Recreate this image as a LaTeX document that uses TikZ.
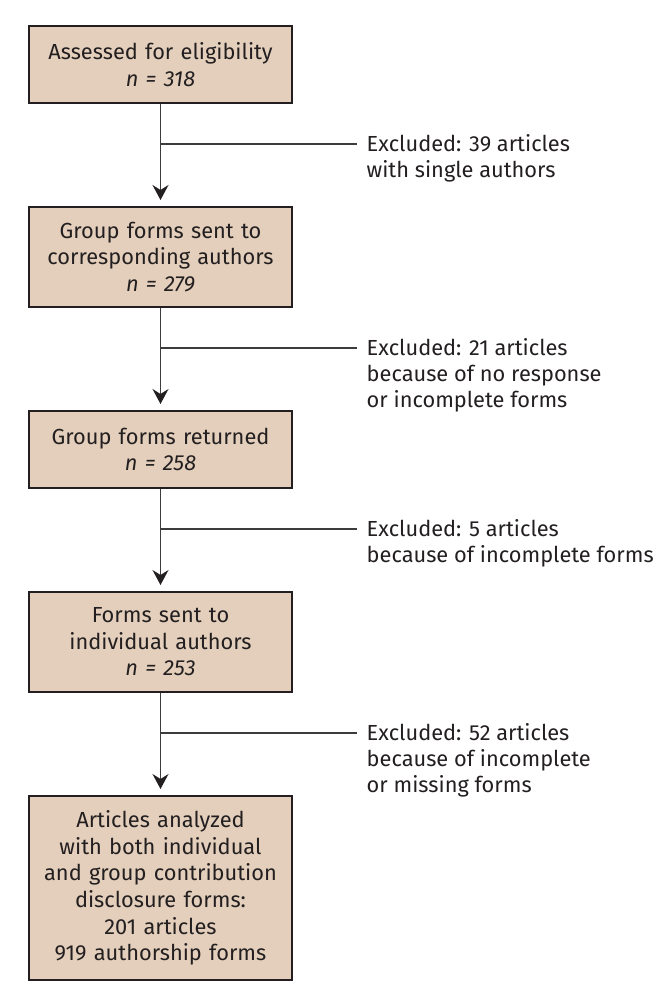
\documentclass[tikz,border=0pt]{standalone}
\usepackage{fontspec}
\setmainfont{Fira Sans}
\usepackage{xcolor}
\usepackage{tikz}
\usetikzlibrary{arrows.meta,positioning,calc}
\definecolor{FlowTan}{HTML}{E3CFBB}
\definecolor{FlowInk}{HTML}{231F20}
\definecolor{FlowLine}{HTML}{3C3C3C}
\tikzset{
  stage/.style={draw=FlowInk,line width=2pt,fill=FlowTan,align=center,
    text width=247pt,inner xsep=8pt,inner ysep=12pt,
    font=\fontsize{21.8}{26.6}\selectfont,text=FlowInk},
  excl/.style={align=left,anchor=north west,inner sep=0pt,
    font=\fontsize{21.8}{26}\selectfont,text=FlowInk},
  flow/.style={-{Stealth[length=15pt,width=16pt,inset=5pt,color=FlowInk]},line width=1.5pt,
    draw=FlowLine,shorten >=6pt},
  branch/.style={line width=1.5pt,draw=FlowLine}
}
\begin{document}
\begin{tikzpicture}[x=1pt,y=-1pt,node distance=102pt]
  \useasboundingbox (0,0) rectangle (668,1006);
  \node[stage,anchor=north,minimum height=77pt] (assess) at (160.5,25) {Assessed for eligibility\\\textit{n = 318}};
  \node[stage,below=of assess,minimum height=100pt] (sent) {Group forms sent to\\corresponding authors\\\textit{n = 279}};
  \node[stage,below=of sent,minimum height=77pt] (returned) {Group forms returned\\\textit{n = 258}};
  \node[stage,below=of returned,minimum height=100pt] (indiv) {Forms sent to\\individual authors\\\textit{n = 253}};
  \node[stage,below=of indiv,minimum height=184pt] (analyzed) {Articles analyzed\\with both individual\\and group contribution\\disclosure forms:\\201 articles\\919 authorship forms};
  % branch points and exclusion notes
  \coordinate (b1) at ($(assess.south)+(0,40)$);
  \coordinate (b2) at ($(sent.south)+(0,40)$);
  \coordinate (b3) at ($(returned.south)+(0,40)$);
  \coordinate (b4) at ($(indiv.south)+(0,40)$);
  \coordinate (e1) at ($(b1)+(196,0)$);
  \coordinate (e2) at ($(b2)+(196,0)$);
  \coordinate (e3) at ($(b3)+(196,0)$);
  \coordinate (e4) at ($(b4)+(196,0)$);
  \node[excl] (x1) at ($(b1)+(206,-9.5)$) {Excluded: 39 articles\\with single authors};
  \node[excl] (x2) at ($(b2)+(206,-9.5)$) {Excluded: 21 articles\\because of no response\\or incomplete forms};
  \node[excl] (x3) at ($(b3)+(206,-9.5)$) {Excluded: 5 articles\\because of incomplete forms};
  \node[excl] (x4) at ($(b4)+(206,-9.5)$) {Excluded: 52 articles\\because of incomplete\\or missing forms};
  \draw[flow] (assess)--(sent); \draw[flow] (sent)--(returned); \draw[flow] (returned)--(indiv);
  \draw[flow] (indiv)--(analyzed);
  \draw[branch] (b1)--(e1); \draw[branch] (b2)--(e2); \draw[branch] (b3)--(e3); \draw[branch] (b4)--(e4);
\end{tikzpicture}
\end{document}
